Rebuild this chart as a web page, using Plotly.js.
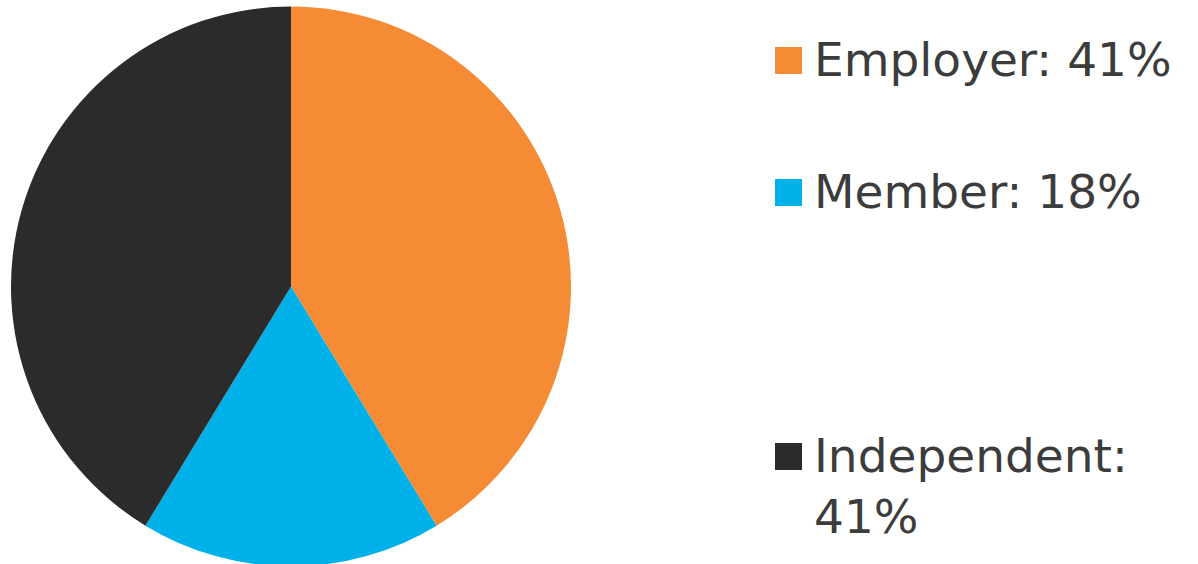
<!DOCTYPE html>
<html>
<head>
<meta charset="utf-8">
<script src="https://cdn.plot.ly/plotly-3.0.1.min.js"></script>
<style>
html,body{margin:0;padding:0;overflow:hidden;background:#fff;}
#chart{width:1198px;height:574px;}
</style>
</head>
<body>
<div id="chart"></div>
<script>
const categories = ["Employer", "Member", "Independent"];
const shares = [41.3, 17.4, 41.3];
const legendLabels = ["Employer: 41%", "Member: 18%", "Independent:<br>41%"];
const colors = ["#F58B35", "#00B1E9", "#2B2B2B"];

const W = 1198, H = 574;
const py = v => 1 - v / H;
const px = v => v / W;

const legendTop = [47, 179, 443]; // square top (px)
const sq = 27;

const shapes = categories.map((c, i) => ({
  type: "rect", xref: "paper", yref: "paper",
  x0: px(775), x1: px(775 + sq), y0: py(legendTop[i] + sq), y1: py(legendTop[i]),
  fillcolor: colors[i], line: {width: 0}
}));

const annotations = categories.map((c, i) => ({
  xref: "paper", yref: "paper",
  x: px(812), y: py(legendTop[i] - 17),
  xanchor: "left", yanchor: "top", align: "left",
  showarrow: false, text: legendLabels[i],
  font: {family: "DejaVu Sans, Verdana, sans-serif", size: 47, color: "#3C3C3C"}
}));

const data = [{
  type: "pie",
  labels: categories,
  values: shares,
  sort: false,
  direction: "clockwise",
  rotation: 0,
  marker: {colors: colors, line: {width: 0}},
  textinfo: "none",
  hoverinfo: "none",
  showlegend: false,
  domain: {x: [px(11), px(571)], y: [7 / H, 568 / H]}
}];

const layout = {
  width: W, height: H,
  margin: {l: 0, r: 0, t: 0, b: 0},
  paper_bgcolor: "#fff",
  showlegend: false,
  shapes: shapes,
  annotations: annotations
};

Plotly.newPlot("chart", data, layout, {staticPlot: true});
</script>
</body>
</html>
